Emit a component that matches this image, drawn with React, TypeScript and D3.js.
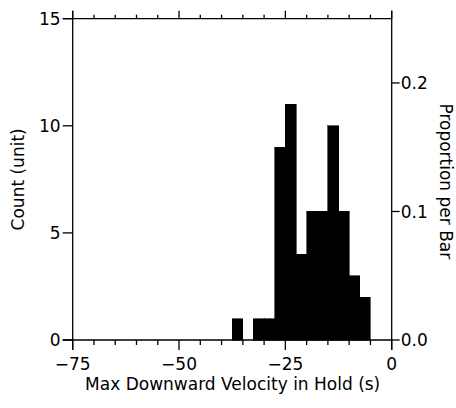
import React from "react";
import * as d3 from "d3";

const binStarts = [-37.5, -35, -32.5, -30, -27.5, -25, -22.5, -20, -17.5, -15, -12.5, -10, -7.5];
const binEnds = [-35, -32.5, -30, -27.5, -25, -22.5, -20, -17.5, -15, -12.5, -10, -7.5, -5];
const counts = [1, 0, 1, 1, 9, 11, 4, 6, 6, 10, 6, 3, 2];
const xTicks = [-75, -50, -25, 0];
const xMinorTicks = [-70, -65, -60, -55, -45, -40, -35, -30, -20, -15, -10, -5];
const yTicks = [0, 5, 10, 15];
const propTicks = [0, 0.1, 0.2];

const W = 456;
const H = 408;
const FONT = "'DejaVu Sans', 'Liberation Sans', Arial, sans-serif";

export default function App() {
  const left = 72.7, right = 391.7, top = 18.7, bottom = 340;
  const x = d3.scaleLinear().domain([-75, 0]).range([left, right]);
  const y = d3.scaleLinear().domain([0, 15]).range([bottom, top]);
  const total = d3.sum(counts);
  const yp = d3.scaleLinear().domain([0, 15 / total]).range([bottom, top]);
  const fmt = (v: number) => (v < 0 ? "\u2212" + Math.abs(v) : String(v));
  const sw = 1.3;
  return (
    <svg width={W} height={H} style={{ position: "absolute", left: 0, top: 0, background: "#fff" }}>
      <g shapeRendering="crispEdges">
        {counts.map((c, i) =>
          c > 0 ? (
            <rect key={i} x={x(binStarts[i])} y={y(c)} width={x(binEnds[i]) - x(binStarts[i])} height={y(0) - y(c)} fill="#000" stroke="#000" strokeWidth={0.6} />
          ) : null
        )}
      </g>
      <g stroke="#000" strokeWidth={sw} fill="none">
        <line x1={left - 10} x2={right} y1={top} y2={top} />
        <line x1={left - 10} x2={right} y1={bottom} y2={bottom} />
        <line x1={left} x2={left} y1={top - 8} y2={bottom + 10} />
        <line x1={right} x2={right} y1={top - 8} y2={bottom + 10} />
        {xTicks.map((t) => (
          <line key={"bM" + t} x1={x(t)} x2={x(t)} y1={bottom} y2={bottom + 10} />
        ))}
        {xMinorTicks.map((t) => (
          <line key={"bm" + t} x1={x(t)} x2={x(t)} y1={bottom} y2={bottom + 5} />
        ))}
        {xTicks.map((t) => (
          <line key={"tM" + t} x1={x(t)} x2={x(t)} y1={top} y2={top - 8} />
        ))}
        {xMinorTicks.map((t) => (
          <line key={"tm" + t} x1={x(t)} x2={x(t)} y1={top} y2={top - 4} />
        ))}
        {yTicks.map((t) => (
          <line key={"l" + t} x1={left - 10} x2={left} y1={y(t)} y2={y(t)} />
        ))}
        {propTicks.map((t) => (
          <line key={"r" + t} x1={right} x2={right + 8} y1={yp(t)} y2={yp(t)} />
        ))}
      </g>
      <g fontFamily={FONT} fontSize={17} fill="#000">
        {xTicks.map((t) => (
          <text key={"xl" + t} x={x(t)} y={370} textAnchor="middle">{fmt(t)}</text>
        ))}
        {yTicks.map((t) => (
          <text key={"yl" + t} x={left - 12} y={y(t)} dy="0.36em" textAnchor="end">{t}</text>
        ))}
        {propTicks.map((t) => (
          <text key={"pl" + t} x={right + 9} y={yp(t)} dy="0.36em" textAnchor="start">{t.toFixed(1)}</text>
        ))}
        <text x={(left + right) / 2 + 0.5} y={390} textAnchor="middle">Max Downward Velocity in Hold (s)</text>
        <text transform={`translate(24,${(top + bottom) / 2}) rotate(-90)`} textAnchor="middle">Count (unit)</text>
        <text transform={`translate(440,${(top + bottom) / 2 + 2}) rotate(90)`} textAnchor="middle">Proportion per Bar</text>
      </g>
    </svg>
  );
}
